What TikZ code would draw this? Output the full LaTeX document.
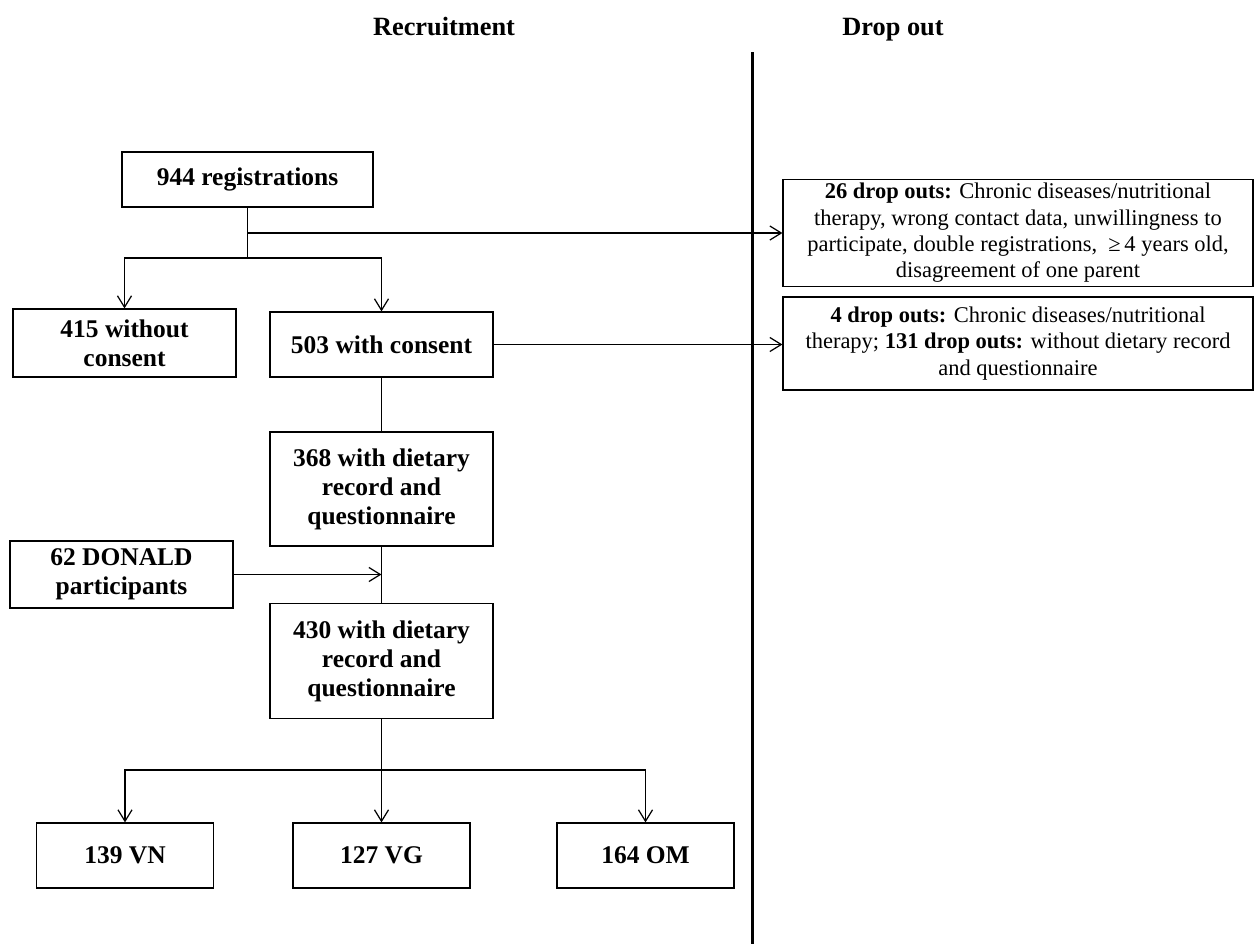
\documentclass[tikz,border=0pt]{standalone}
\usepackage{fontspec}
\setmainfont{Liberation Serif}
\usetikzlibrary{arrows.meta,positioning,calc}

\begin{document}
\begin{tikzpicture}
[ x=0.02cm, y=-0.02cm,
  >={Straight Barb[length=6.5pt,width=8pt]},
  box/.style={ draw, line width=0.7pt, align=center, inner sep=2pt,
    font=\fontsize{14.5}{16.5}\selectfont\bfseries
    },
  dropbox/.style={ draw, line width=0.7pt, align=center, inner sep=2pt,
    minimum width=9.4cm, font=\fontsize{12.8}{15}\selectfont
    },
  head/.style={ anchor=base, font=\fontsize{15}{17}\selectfont\bfseries },
  link/.style={ line width=0.7pt }
]
\useasboundingbox (0,0) rectangle (1255,944);
%\draw[help lines,step=50] (0,0) grid (1255,944);

  \node[head] (rec) at (444,35) {Recruitment};
  \node[head] (out) at (893,35) {Drop out};
  \coordinate (divtop) at (752,52);
  \coordinate (divbot) at (752,944);
  \draw[line width=1.7pt] (divtop) -- (divbot);

  \node[box, minimum width=5.02cm, minimum height=1.1cm] (reg) at (247.5,179.5) {944 registrations};
  \node[box, minimum width=4.46cm, minimum height=1.36cm] (nocon) at (124.5,343) {415 without\\consent};
  \node[box, minimum width=4.46cm, minimum height=1.3cm] (con) at (381.5,344.5) {503 with consent};
  \node[box, minimum width=4.46cm, minimum height=2.28cm] (diet1) at (381.5,489) {368 with dietary\\record and\\questionnaire};
  \node[box, minimum width=4.46cm, minimum height=1.34cm] (donald) at (121.5,574.5) {62 DONALD\\participants};
  \node[box, minimum width=4.46cm, minimum height=2.3cm] (diet2) at (381.5,661) {430 with dietary\\record and\\questionnaire};

  \node[dropbox, minimum height=2.12cm] (drop1) at (1018,233)
    {\textbf{26 drop outs:} Chronic diseases/nutritional\\therapy, wrong contact data, unwillingness to\\participate, double registrations, \ ≥\,4 years old,\\disagreement of one parent};
  \node[dropbox, minimum height=1.86cm] (drop2) at (1018,343.5)
    {\textbf{4 drop outs:} Chronic diseases/nutritional\\therapy; \textbf{131 drop outs:} without dietary record\\and questionnaire};

  \foreach \nm/\cx/\lbl in {vn/125/139 VN, vg/381.5/127 VG, om/645.5/164 OM}{
    \node[box, minimum width=3.54cm, minimum height=1.3cm] (\nm) at (\cx,855.5) {\lbl};
  }

  \coordinate (split1) at (247.5,258);
  \coordinate (split2) at (381.5,770);

  \draw[link] (reg.south) -- (split1);
  \draw[link,->] (reg.south |- drop1.west) -- (drop1.west);
  \foreach \a in {nocon,con}{
    \draw[link,->] (split1) -| (\a.north);
  }
  \draw[link,->] (con.east) -- (con.east -| drop2.west);
  \draw[link] (con.south) -- (diet1.north);
  \draw[link] (diet1.south) -- (diet2.north);
  \draw[link,->] (donald.east) -- (donald.east -| diet1.south);
  \draw[link] (diet2.south) -- (split2);
  \foreach \b in {vn,vg,om}{
    \draw[link,->] (split2) -| (\b.north);
  }
\end{tikzpicture}
\end{document}
